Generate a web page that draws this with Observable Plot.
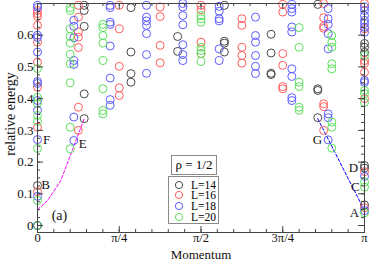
<!DOCTYPE html>
<html><head><meta charset="utf-8">
<script src="https://cdn.jsdelivr.net/npm/d3@7"></script>
<script src="https://cdn.jsdelivr.net/npm/@observablehq/plot@0.6"></script>
<style>
body{margin:0;background:#fff;}
#wrap{position:relative;width:374px;height:262px;font-family:"Liberation Serif",serif;}
.box{position:absolute;background:#fff;border:1px solid #8a8a8a;box-sizing:border-box;}
#rho{left:171px;top:155px;width:46px;height:20px;font-size:13px;line-height:18px;text-align:center;}
#leg{left:168px;top:176px;width:51px;height:48px;font-size:11.5px;}
.row{position:absolute;left:0;height:10px;line-height:10px;}
.row svg{position:absolute;left:5px;top:0px;}
.row span{position:absolute;left:22px;top:0;white-space:nowrap;}
</style></head><body><div id="wrap"></div>
<script>
// series names and colours
const seriesNames = ["L=14", "L=16", "L=18", "L=20"];
const sizes = [14, 16, 18, 20];
const colors = ["#4a4a4a", "#ff5c5c", "#5c5cff", "#5ce05c"];

// energies per momentum index n (k = 2πn/L)
const L14 = [
  [0, [0, 0.126]],
  [1, [0.694, 0.678, 0.628, 0.415, 0.337]],
  [2, [0.687, 0.547, 0.479, 0.452]],
  [3, [0.596, 0.549]],
  [4, [0.694, 0.581, 0.575, 0.547]],
  [5, [0.603, 0.544, 0.480, 0.476]],
  [6, [0.697, 0.431, 0.426, 0.340]],
  [7, [0.065, 0.181, 0.189, 0.546, 0.562, 0.574]]
];
const L16 = [
  [0, [0, 0.107, 0.310, 0.436, 0.515, 0.578, 0.631, 0.659, 0.668, 0.678]],
  [1, [0.694, 0.657, 0.610, 0.594, 0.561, 0.373, 0.300]],
  [2, [0.694, 0.620, 0.502, 0.434, 0.410]],
  [3, [0.689, 0.659, 0.568, 0.513]],
  [4, [0.694, 0.680, 0.578, 0.542]],
  [5, [0.652, 0.631, 0.562, 0.536, 0.512]],
  [6, [0.697, 0.673, 0.542, 0.505, 0.438, 0.431]],
  [7, [0.700, 0.655, 0.628, 0.622, 0.384, 0.375, 0.300]],
  [8, [0.056, 0.170, 0.400, 0.483, 0.511, 0.520, 0.620, 0.700]]
];
const L18 = [
  [0, [0, 0.092, 0.271, 0.363, 0.394, 0.448, 0.454, 0.547, 0.593, 0.600, 0.688, 0.694]],
  [1, [0.647, 0.628, 0.592, 0.520, 0.508, 0.342, 0.268]],
  [2, [0.694, 0.687, 0.641, 0.634, 0.566, 0.465, 0.397, 0.379]],
  [3, [0.694, 0.657, 0.645, 0.631, 0.605, 0.539, 0.480]],
  [4, [0.700, 0.689, 0.662, 0.633, 0.570, 0.539, 0.520]],
  [5, [0.691, 0.676, 0.652, 0.645, 0.557, 0.520]],
  [6, [0.657, 0.599, 0.578, 0.536, 0.502, 0.479]],
  [7, [0.697, 0.684, 0.673, 0.626, 0.610, 0.494, 0.470, 0.403, 0.394]],
  [8, [0.684, 0.652, 0.634, 0.605, 0.557, 0.352, 0.340, 0.270]],
  [9, [0.047, 0.155, 0.451, 0.457, 0.609, 0.625, 0.637, 0.647, 0.662, 0.678, 0.689]]
];
const L20 = [
  [0, [0, 0.079, 0.243, 0.328, 0.347, 0.385, 0.404, 0.495]],
  [1, [0.687, 0.678, 0.620, 0.596, 0.575, 0.540, 0.510, 0.450, 0.310, 0.242]],
  [2, [0.634, 0.624, 0.599, 0.575, 0.520, 0.431, 0.363, 0.352]],
  [5, [0.662, 0.652, 0.641, 0.562, 0.552, 0.542, 0.517]],
  [8, [0.624, 0.562, 0.452, 0.438, 0.373, 0.363]],
  [9, [0.599, 0.578, 0.562, 0.510, 0.494, 0.326, 0.310, 0.244]],
  [10, [0.040, 0.121, 0.137, 0.388, 0.416, 0.426, 0.536]]
];

// dashed guide lines (momentum in units of π, energy)
const fitLeft = [[0, 0.050], [0.031, 0.079], [0.0715, 0.142], [0.143, 0.337]];
const fitRight = [[0.857, 0.337], [1, 0.047]];

// point labels (momentum in units of π, energy)
const letters = ["A", "C", "D", "G", "F", "B", "E"];
const letterK = [0.969, 0.972, 0.966, 0.856, 0.028, 0.025, 0.138];
const letterE = [0.041, 0.123, 0.183, 0.271, 0.271, 0.129, 0.259];
const panelTag = ["(a)"]; const panelK = [0.067]; const panelE = [0.032];

// axes
const xMajor = [0, 0.25, 0.5, 0.75, 1];
const xTickLabels = ["0", "π/4", "π/2", "3π/4", "π"];
const yMajor = [0, 0.1, 0.2, 0.3, 0.4, 0.5, 0.6];
const yTickLabels = ["0", "0.1", "0.2", "0.3", "0.4", "0.5", "0.6"];
const xMinor = d3.range(0, 21).map(i => i / 20);
const yMinor = d3.range(0, 29).map(i => i * 0.025);
const xLabel = "Momentum", yLabel = "relative energy";

const all = [L14, L16, L18, L20];
const pts = [];
all.forEach((ser, si) => ser.forEach(([n, es]) => es.forEach(e =>
  pts.push({s: seriesNames[si], k: 2 * n / sizes[si], e}))));

const W = 374, H = 262, mL = 37, mR = 10, mT = 3, mB = 30;
const fw = W - mL - mR, fh = H - mT - mB;

const chart = Plot.plot({
  width: W, height: H, marginLeft: mL, marginRight: mR, marginTop: mT, marginBottom: mB,
  style: {fontFamily: "'Liberation Serif', serif", fontSize: "13px", background: "#fff", color: "#111"},
  x: {domain: [0, 1]},
  y: {domain: [-0.022, 0.70]},
  color: {domain: seriesNames, range: colors},
  marks: [
    Plot.line(fitLeft, {x: d => d[0], y: d => d[1], stroke: "#ff00ff", strokeWidth: 1, strokeDasharray: "3,2"}),
    Plot.line(fitRight, {x: d => d[0], y: d => d[1], stroke: "#0000ff", strokeWidth: 1, strokeDasharray: "3,2"}),
    Plot.dot(pts, {x: "k", y: "e", stroke: "s", r: 4, strokeWidth: 1, fill: "none"}),
    Plot.frame({stroke: "#444"}),
    Plot.tickX(xMajor, {x: d => d, insetTop: fh - 6, stroke: "#444"}),
    Plot.tickX(xMajor, {x: d => d, insetBottom: fh - 6, stroke: "#444"}),
    Plot.tickX(xMinor, {x: d => d, insetTop: fh - 3, stroke: "#444"}),
    Plot.tickX(xMinor, {x: d => d, insetBottom: fh - 3, stroke: "#444"}),
    Plot.tickY(yMajor, {y: d => d, insetRight: fw - 6, stroke: "#444"}),
    Plot.tickY(yMajor, {y: d => d, insetLeft: fw - 6, stroke: "#444"}),
    Plot.tickY(yMinor, {y: d => d, insetRight: fw - 3, stroke: "#444"}),
    Plot.tickY(yMinor, {y: d => d, insetLeft: fw - 3, stroke: "#444"}),
    Plot.axisX({ticks: xMajor, tickFormat: d => xTickLabels[xMajor.indexOf(d)], tickSize: 0, tickPadding: 1, label: null, fontSize: 12.5}),
    Plot.axisY({ticks: yMajor, tickFormat: d => yTickLabels[yMajor.indexOf(d)], tickSize: 0, tickPadding: 4, label: null, fontSize: 13}),
    Plot.text([xLabel], {frameAnchor: "bottom", lineAnchor: "middle", textAnchor: "middle", dy: 22, fontSize: 13, fill: "#111"}),
    Plot.text([yLabel], {frameAnchor: "left", lineAnchor: "middle", textAnchor: "middle", rotate: -90, dx: -27, dy: -4, fontSize: 14, fill: "#111"}),
    Plot.text(letters, {x: (d, i) => letterK[i], y: (d, i) => letterE[i], text: d => d, fontSize: 13, fill: "#111"}),
    Plot.text(panelTag, {x: (d, i) => panelK[i], y: (d, i) => panelE[i], text: d => d, fontSize: 14, fill: "#111"})
  ]
});
const wrap = document.getElementById("wrap");
wrap.appendChild(chart);

// legend overlay
const rho = document.createElement("div");
rho.className = "box"; rho.id = "rho"; rho.textContent = "ρ = 1/2";
wrap.appendChild(rho);
const leg = document.createElement("div");
leg.className = "box"; leg.id = "leg";
seriesNames.forEach((name, i) => {
  const row = document.createElement("div");
  row.className = "row"; row.style.top = (2.5 + i * 10.7) + "px";
  row.innerHTML = `<svg width="10" height="10"><circle cx="5" cy="5" r="3.6" fill="none" stroke="${colors[i]}" stroke-width="1"/></svg><span>${name}</span>`;
  leg.appendChild(row);
});
wrap.appendChild(leg);
</script>
</body></html>
